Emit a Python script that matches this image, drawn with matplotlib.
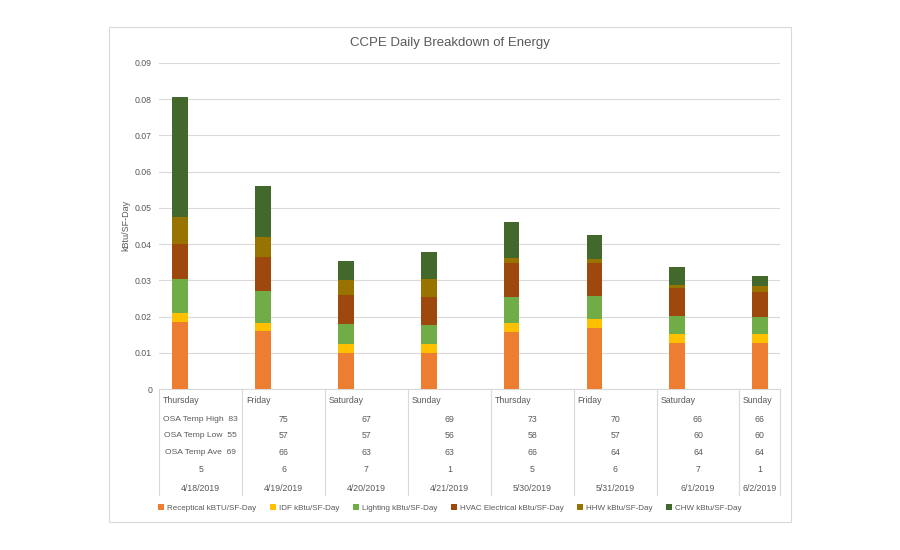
import matplotlib.pyplot as plt
import matplotlib.transforms as mtransforms
from matplotlib.patches import Rectangle
import numpy as np

plt.rcParams['font.family'] = ['Liberation Sans', 'DejaVu Sans']

# Data
days = ["Thursday", "Friday", "Saturday", "Sunday",
        "Thursday", "Friday", "Saturday", "Sunday"]
dates = ["4/18/2019", "4/19/2019", "4/20/2019", "4/21/2019",
         "5/30/2019", "5/31/2019", "6/1/2019", "6/2/2019"]
temp_high = [83, 75, 67, 69, 73, 70, 66, 66]
temp_low = [55, 57, 57, 56, 58, 57, 60, 60]
temp_ave = [69, 66, 63, 63, 66, 64, 64, 64]
day_num = [5, 6, 7, 1, 5, 6, 7, 1]

receptical = [0.0186, 0.0161, 0.0100, 0.0100, 0.0158, 0.0169, 0.0128, 0.0128]
idf = [0.0025, 0.0022, 0.0025, 0.0024, 0.0023, 0.0024, 0.0024, 0.0023]
lighting = [0.0093, 0.0088, 0.0055, 0.0054, 0.0074, 0.0065, 0.0049, 0.0049]
hvac = [0.0096, 0.0093, 0.0080, 0.0077, 0.0092, 0.0090, 0.0077, 0.0069]
hhw = [0.0074, 0.0056, 0.0041, 0.0049, 0.0014, 0.0011, 0.0010, 0.0014]
chw = [0.0333, 0.0141, 0.0053, 0.0074, 0.0099, 0.0066, 0.0049, 0.0029]

series = [
    ("Receptical kBTU/SF-Day", receptical, "#ED7D31"),
    ("IDF kBtu/SF-Day", idf, "#FFC000"),
    ("Lighting kBtu/SF-Day", lighting, "#70AD47"),
    ("HVAC Electrical kBtu/SF-Day", hvac, "#9E480E"),
    ("HHW kBtu/SF-Day", hhw, "#997300"),
    ("CHW kBtu/SF-Day", chw, "#43682B"),
]

TEXT = "#595959"
GRID = "#D9D9D9"

fig = plt.figure(figsize=(9, 5.5), dpi=100)
ax = fig.add_axes([0.1767, 0.2927, 0.69, 0.5928])

# outer chart frame
fig.patches.append(Rectangle((109 / 900, 1 - 522 / 550), 682 / 900, 495 / 550,
                             transform=fig.transFigure, fill=False,
                             edgecolor="#D9D9D9", linewidth=0.8))

x = np.arange(len(days))
bottom = np.zeros(len(days))
for name, vals, color in series:
    ax.bar(x, vals, width=0.19, bottom=bottom, color=color, label=name, zorder=3)
    bottom += np.array(vals)

ax.set_xlim(-0.254, 7.24)
ax.set_ylim(0, 0.09)
ax.set_yticks(np.arange(0, 0.091, 0.01))
ax.set_yticklabels(["0"] + [f"{v:.2f}" for v in np.arange(0.01, 0.091, 0.01)])
ax.yaxis.grid(True, color=GRID, linewidth=0.8, zorder=0)
ax.set_xticks([])
ax.tick_params(axis='y', length=0, labelsize=6.3, labelcolor=TEXT, pad=5)
for side in ["left", "right", "top"]:
    ax.spines[side].set_visible(False)
ax.spines["bottom"].set_color(GRID)
ax.spines["bottom"].set_linewidth(0.8)

ax.set_ylabel("kBtu/SF-Day", fontsize=6.5, color=TEXT)
ax.yaxis.set_label_coords(-0.046, 0.503)
fig.text(0.5, 1 - 43 / 550, "CCPE Daily Breakdown of Energy",
         ha="center", va="center", fontsize=9.5, color=TEXT)

# multi-level category table under the axis
trans = mtransforms.blended_transform_factory(ax.transData, ax.transAxes)
table_depth = -106 / 326
bounds = [k - 0.25 for k in range(len(days))] + [7.24]
for b in bounds:
    ax.plot([b, b], [0, table_depth], transform=trans, color=GRID,
            linewidth=0.8, clip_on=False)

row_offsets = [8.6, 21.6, 33.8, 46.0, 58.3, 71.3]
for i in range(len(days)):
    left = bounds[i]
    center = (bounds[i] + bounds[i + 1]) / 2
    ax.annotate(days[i], xy=(left + 0.045, 0), xycoords=trans,
                xytext=(0, -row_offsets[0]), textcoords="offset points",
                ha="left", va="center", fontsize=6.3, color=TEXT)
    if i == 0:
        cells = [f"OSA Temp High  {temp_high[i]}",
                 f"OSA Temp Low  {temp_low[i]}",
                 f"OSA Temp Ave  {temp_ave[i]}"]
    else:
        cells = [str(temp_high[i]), str(temp_low[i]), str(temp_ave[i])]
    cells += [str(day_num[i]), dates[i]]
    for r, (txt, off) in enumerate(zip(cells, row_offsets[1:])):
        size = 6.1 if (i == 0 and r < 3) else 6.3
        ax.annotate(txt, xy=(center, 0), xycoords=trans,
                    xytext=(0, -off), textcoords="offset points",
                    ha="center", va="center", fontsize=size, color=TEXT)

leg = fig.legend(loc="center", bbox_to_anchor=(0.5, 1 - 508 / 550), ncol=6,
                 frameon=False, fontsize=5.8, handlelength=0.7, handleheight=0.7,
                 handletextpad=0.4, columnspacing=1.7)
for t in leg.get_texts():
    t.set_color(TEXT)

fig.savefig("out.png", dpi=100)
